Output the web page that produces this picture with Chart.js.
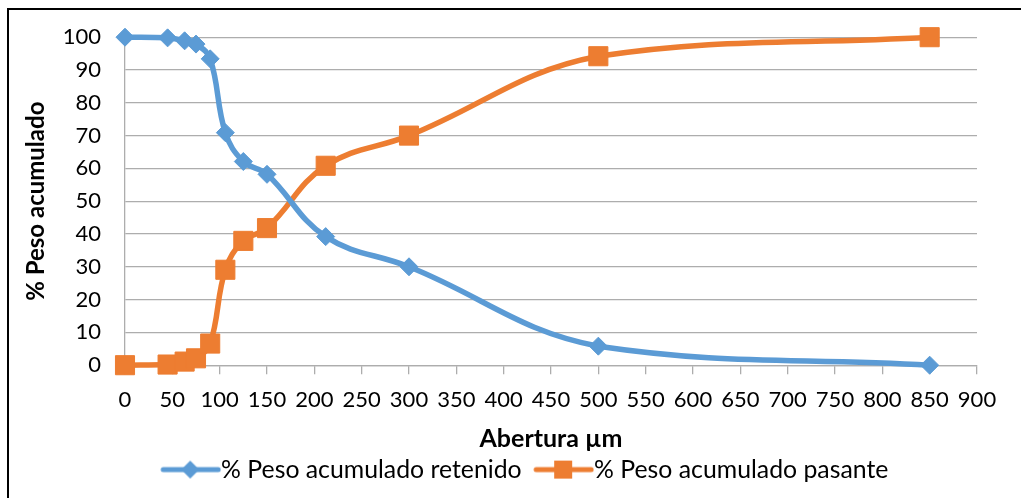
<!DOCTYPE html>
<html>
<head>
<meta charset="utf-8">
<script src="https://cdn.jsdelivr.net/npm/chart.js@4.4.1/dist/chart.umd.min.js"></script>
<style>
  html, body { margin: 0; padding: 0; background: #fff; overflow: hidden; }
  #wrap { position: relative; width: 1021px; height: 498px; }
</style>
</head>
<body>
<div id="wrap"><canvas id="c" width="1021" height="498"></canvas></div>
<script>
// Sieve apertures (µm) and cumulative weight percentages
const aperture = [0, 45, 63, 75, 90, 106, 125, 150, 212, 300, 500, 850];
const retenido = [100, 99.8, 98.9, 97.9, 93.4, 70.9, 62.1, 58.2, 39.2, 30, 5.8, 0];
const pasante  = [0, 0.2, 1.1, 2.1, 6.6, 29.1, 37.9, 41.8, 60.8, 70, 94.2, 100];

const seriesNames = ['% Peso acumulado retenido', '% Peso acumulado pasante'];
const xTitle = 'Abertura µm';
const yTitle = '% Peso acumulado';

const BLUE = '#5B9BD5';
const ORANGE = '#ED7D31';
const GRID = '#ADADAD';
const FONT = 'Lato, "DejaVu Sans", sans-serif';

function toPoints(xs, ys) { return xs.map((x, i) => ({ x: x, y: ys[i] })); }

// Line-with-marker legend swatches. The image is drawn centred on the
// legend box, so the visible part sits in its right-hand portion to run
// up against the label text.
function swatch(color, shape) {
  const c = document.createElement('canvas');
  c.width = 83; c.height = 20;
  const g = c.getContext('2d');
  g.strokeStyle = color; g.lineWidth = 5; g.lineCap = 'round';
  g.beginPath(); g.moveTo(25, 10); g.lineTo(80, 10); g.stroke();
  g.fillStyle = color;
  g.beginPath();
  if (shape === 'diamond') {
    g.moveTo(52, 1); g.lineTo(61, 10); g.lineTo(52, 19); g.lineTo(43, 10);
  } else {
    g.rect(43, 1, 18, 18);
  }
  g.closePath(); g.fill();
  return c;
}
const swatches = [swatch(BLUE, 'diamond'), swatch(ORANGE, 'square')];

// Black frame on the top and left edges
const framePlugin = {
  id: 'frame',
  afterDraw(chart) {
    const ctx = chart.ctx;
    ctx.save();
    ctx.strokeStyle = '#000';
    ctx.lineWidth = 2;
    ctx.beginPath();
    ctx.moveTo(8, 498); ctx.lineTo(8, 9); ctx.lineTo(1021, 9);
    ctx.stroke();
    ctx.restore();
  }
};

// Nudge the legend row to the right so it sits under the plot
const legendShift = {
  id: 'legendShift',
  afterLayout(chart) {
    const lg = chart.legend;
    if (lg) { lg.left += 31; lg.right += 31; }
  }
};

new Chart(document.getElementById('c'), {
  type: 'scatter',
  data: {
    datasets: [
      {
        label: seriesNames[0],
        data: toPoints(aperture, retenido),
        showLine: true,
        borderColor: BLUE,
        backgroundColor: BLUE,
        borderWidth: 5.5,
        tension: 0.4,
        pointStyle: 'rectRot',
        pointRadius: 9,
        pointHoverRadius: 9,
        pointBorderWidth: 1,
        pointBorderColor: BLUE,
        pointBackgroundColor: BLUE,
        clip: false
      },
      {
        label: seriesNames[1],
        data: toPoints(aperture, pasante),
        showLine: true,
        borderColor: ORANGE,
        backgroundColor: ORANGE,
        borderWidth: 5.5,
        tension: 0.4,
        pointStyle: 'rect',
        pointRadius: 13.5,
        pointHoverRadius: 13.5,
        pointBorderWidth: 1,
        pointBorderColor: ORANGE,
        pointBackgroundColor: ORANGE,
        clip: false
      }
    ]
  },
  options: {
    responsive: false,
    animation: false,
    events: [],
    layout: { padding: { left: 0, right: 44, top: 35, bottom: 6 } },
    plugins: {
      tooltip: { enabled: false },
      legend: {
        position: 'bottom',
        labels: {
          usePointStyle: true,
          pointStyleWidth: 58,
          padding: 2,
          color: '#000',
          font: { family: FONT, size: 24.8 },
          generateLabels(chart) {
            const items = Chart.defaults.plugins.legend.labels.generateLabels(chart);
            items.forEach((it, i) => { it.pointStyle = swatches[i]; });
            return items;
          }
        }
      }
    },
    scales: {
      x: {
        type: 'linear',
        min: 0, max: 900,
        afterFit(scale) { scale.height = 90; },
        ticks: {
          stepSize: 50,
          autoSkip: false,
          maxRotation: 0,
          padding: 13,
          color: '#000',
          font: { family: FONT, size: 22 }
        },
        grid: { drawOnChartArea: false, drawTicks: true, tickLength: 9, color: GRID, lineWidth: 1.3 },
        border: { display: true, color: GRID, width: 1.3 },
        title: {
          display: true,
          text: xTitle,
          color: '#000',
          font: { family: FONT, size: 25, weight: 'bold' },
          padding: { top: 0, bottom: 1 }
        }
      },
      y: {
        type: 'linear',
        min: 0, max: 100,
        afterFit(scale) { scale.width = 125; },
        ticks: {
          stepSize: 10,
          padding: 24,
          color: '#000',
          font: { family: FONT, size: 22 }
        },
        grid: { drawTicks: false, color: GRID, lineWidth: 1.3 },
        border: { display: true, color: GRID, width: 1.3 },
        title: {
          display: true,
          text: yTitle,
          color: '#000',
          font: { family: FONT, size: 24, weight: 'bold' },
          padding: { top: 21.6, bottom: 0 }
        }
      }
    }
  },
  plugins: [framePlugin, legendShift]
});
</script>
</body>
</html>
